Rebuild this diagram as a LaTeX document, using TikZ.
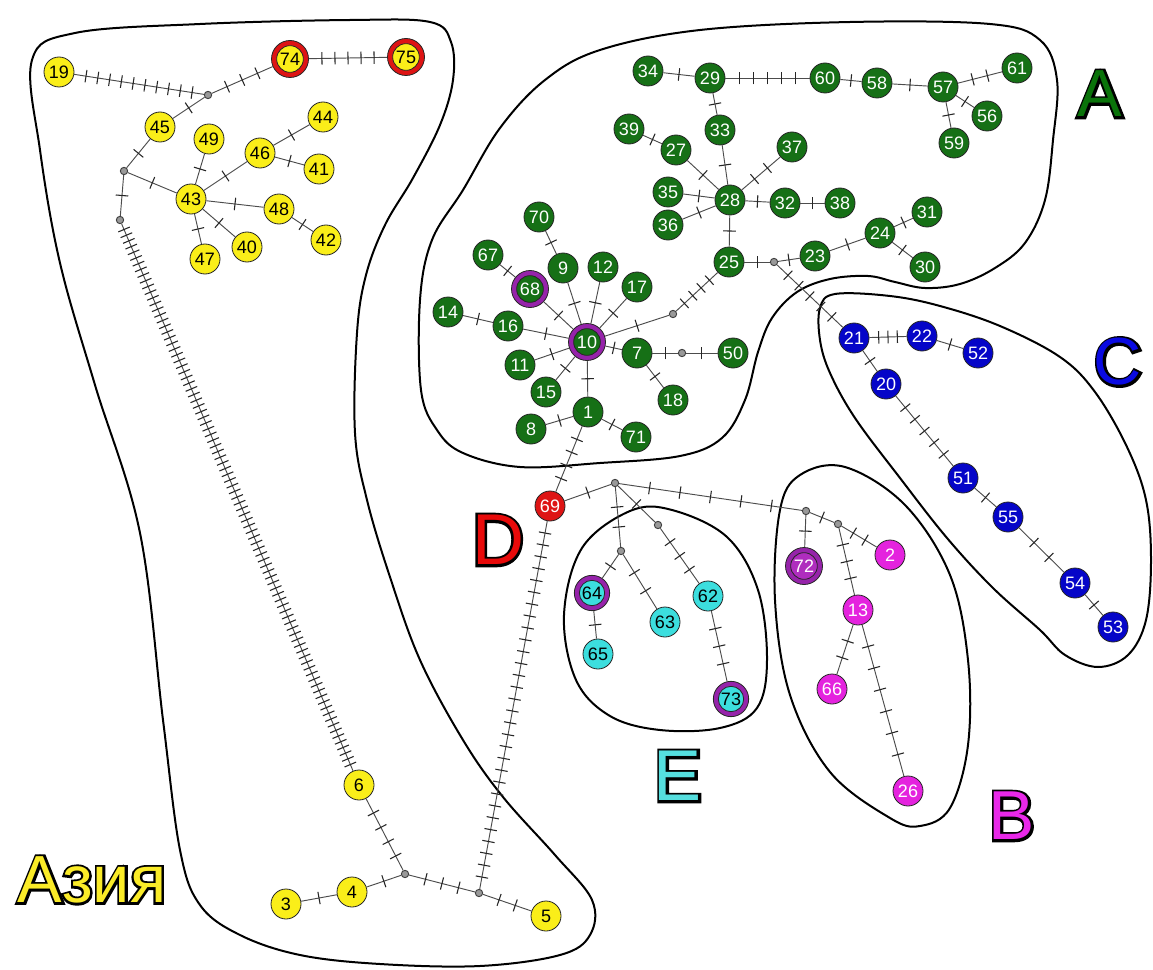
\documentclass[tikz,border=0pt]{standalone}
\usepackage{fontspec}
\setmainfont{Liberation Sans}
\newfontfamily\lblfont{Liberation Sans}
\newfontfamily\lblout{Liberation Sans}[FakeBold=7]
\usetikzlibrary{decorations.markings,calc}
\definecolor{cYel}{RGB}{250,238,25}
\definecolor{cGrn}{RGB}{22,112,22}
\definecolor{cBlu}{RGB}{5,5,200}
\definecolor{cMag}{RGB}{228,35,222}
\definecolor{cCya}{RGB}{60,222,222}
\definecolor{cRed}{RGB}{222,20,20}
\definecolor{cPur}{RGB}{150,35,170}
\definecolor{cPin}{RGB}{175,45,190}
\definecolor{cLbA}{RGB}{10,115,10}
\definecolor{cLbC}{RGB}{10,10,225}
\definecolor{cLbD}{RGB}{232,10,10}
\definecolor{cLbE}{RGB}{85,222,222}
\definecolor{cLbB}{RGB}{232,40,232}
\definecolor{cLbY}{RGB}{250,235,40}
\tikzset{
  hap/.style={circle, draw=black!85, line width=0.6pt, minimum size=22.5pt, inner sep=0pt,
    font={\fontsize{13.5pt}{14pt}\selectfont}},
  yel/.style={hap, fill=cYel, text=black},
  grn/.style={hap, fill=cGrn, text=white},
  blu/.style={hap, fill=cBlu, text=white},
  mag/.style={hap, fill=cMag, text=white},
  cya/.style={hap, fill=cCya, text=black},
  redn/.style={hap, fill=cRed, text=white},
  ringo/.style={hap, minimum size=27.75pt},
  inner/.style={minimum size=20pt},
  med/.style={circle, draw=black!75, fill=black!40, line width=0.7pt, minimum size=5.5pt, inner sep=0pt},
  edge/.style={draw=black!70, line width=0.7pt},
  tickln/.style={draw=black!85, line width=0.8pt},
  region/.style={draw=black, line width=1.5pt},
  bigl/.style={inner sep=0pt},
}
\newcommand\hedge[3]{%
  \pgfmathsetmacro\hst{1/(#3+1)}%
  \pgfmathsetmacro\hen{#3/(#3+1)+0.0005}%
  \draw[edge, postaction={decorate, decoration={markings,
     mark=between positions {\hst} and {\hen} step {\hst} with {\draw[tickln] (0,-4.7pt) -- (0,4.7pt);}}}]
     (#1) -- (#2);}
% outlined label: black emboldened copy underneath, coloured glyphs on top, same glyph origin
\newcommand\biglbl[6]{%
  \node[bigl, font={\lblout\fontsize{#6}{#6}\selectfont}, text=black] (#1-o) at (#2,#3) {#5};
  \node[bigl, anchor=base west, font={\lblfont\fontsize{#6}{#6}\selectfont}, text=#4] (#1) at (#1-o.base west) {#5};}
\begin{document}
\begin{tikzpicture}[x=0.75pt,y=-0.75pt]
\fill[white] (0,0) rectangle (1153,970);
\useasboundingbox (0,0) rectangle (1153,970);

% regions
\draw[region] plot[smooth cycle, tension=0.6] coordinates {
 (32,60) (75,33) (200,24) (350,20) (430,22) (451,42) (453,80) (440,125) (413,178) (385,225)
 (366,275) (357,333) (355,433) (367,500) (390,577) (420,660) (463,740) (503,797) (555,855)
 (592,900) (590,935) (560,955) (480,966) (380,964) (300,955) (240,935) (200,905) (180,850)
 (163,720) (140,533) (95,385) (60,263) (40,150)};
\draw[region] plot[smooth cycle, tension=0.6] coordinates {
 (600,50) (700,30) (850,22) (990,24) (1040,40) (1057,80) (1053,140) (1045,200) (1025,243)
 (995,268) (960,284) (925,288) (895,282) (868,276) (830,279) (797,292) (772,318) (758,352)
 (745,400) (722,438) (680,456) (600,463) (520,467) (463,453) (437,430) (421,390) (420,300)
 (432,240) (463,190) (500,128) (545,80)};
\draw[region] plot[smooth cycle, tension=0.6] coordinates {
 (835,294) (890,296) (940,306) (1000,326) (1060,357) (1095,392) (1127,447) (1146,500)
 (1151,560) (1146,620) (1128,655) (1098,667) (1065,655) (1040,630) (993,588) (947,538)
 (900,478) (855,418) (830,373) (820,340) (820,308)};
\draw[region] plot[smooth cycle, tension=0.6] coordinates {
 (630,511) (672,510) (727,537) (758,590) (767,660) (757,708) (720,728) (660,730) (610,716)
 (576,680) (564,615) (582,548)};
\draw[region] plot[smooth cycle, tension=0.6] coordinates {
 (800,475) (845,467) (905,505) (950,575) (968,660) (968,745) (950,808) (920,826) (890,818)
 (830,772) (790,695) (775,600) (780,510)};

% ---------- nodes: Asia (yellow)
\node[yel] (n19) at (59,72) {19};
\node[ringo, fill=cRed] (n74) at (290,59) {};
\node[yel, inner] (n74i) at (n74) {74};
\node[ringo, fill=cRed] (n75) at (406,57) {};
\node[yel, inner] (n75i) at (n75) {75};
\node[med] (m1) at (208,95) {};
\node[yel] (n45) at (160,127) {45};
\node[yel] (n49) at (209,139) {49};
\node[yel] (n46) at (260,153) {46};
\node[yel] (n44) at (323,117) {44};
\node[yel] (n41) at (319,169) {41};
\node[yel] (n43) at (191,199) {43};
\node[yel] (n48) at (279,209) {48};
\node[yel] (n42) at (326,240) {42};
\node[yel] (n47) at (205,259) {47};
\node[yel] (n40) at (247,247) {40};
\node[med] (m2) at (124,171) {};
\node[med] (m3) at (120,220) {};
\node[yel] (n6) at (359,785) {6};
\node[med] (m4) at (405,874) {};
\node[yel] (n4) at (352,892) {4};
\node[yel] (n3) at (286,904) {3};
\node[med] (m5) at (479,893) {};
\node[yel] (n5) at (546,916) {5};

% ---------- A (green)
\node[grn] (n34) at (648,71) {34};
\node[grn] (n29) at (710,78) {29};
\node[grn] (n60) at (825,78) {60};
\node[grn] (n58) at (877,83) {58};
\node[grn] (n57) at (943,87) {57};
\node[grn] (n61) at (1017,68) {61};
\node[grn] (n56) at (987,116) {56};
\node[grn] (n59) at (954,143) {59};
\node[grn] (n33) at (720,130) {33};
\node[grn] (n39) at (629,129) {39};
\node[grn] (n27) at (676,150) {27};
\node[grn] (n37) at (792,147) {37};
\node[grn] (n35) at (668,192) {35};
\node[grn] (n28) at (730,200) {28};
\node[grn] (n32) at (785,203) {32};
\node[grn] (n38) at (840,203) {38};
\node[grn] (n36) at (668,225) {36};
\node[grn] (n25) at (729,262) {25};
\node[med] (mA) at (774,262) {};
\node[grn] (n23) at (815,256) {23};
\node[grn] (n24) at (880,233) {24};
\node[grn] (n31) at (927,212) {31};
\node[grn] (n30) at (925,267) {30};
\node[grn] (n70) at (539,217) {70};
\node[grn] (n67) at (488,255) {67};
\node[grn] (n9) at (563,268) {9};
\node[grn] (n12) at (603,267) {12};
\node[grn] (n17) at (637,287) {17};
\node[ringo, fill=cPur] (n68) at (530,289) {};
\node[grn, inner] (n68i) at (n68) {68};
\node[grn] (n14) at (448,312) {14};
\node[grn] (n16) at (508,326) {16};
\node[ringo, fill=cPur] (n10) at (587,342) {};
\node[grn, inner] (n10i) at (n10) {10};
\node[grn] (n7) at (637,353) {7};
\node[med] (mB) at (682,353) {};
\node[grn] (n50) at (733,353) {50};
\node[grn] (n11) at (520,365) {11};
\node[grn] (n15) at (546,392) {15};
\node[grn] (n18) at (673,400) {18};
\node[grn] (n1) at (588,412) {1};
\node[grn] (n8) at (531,429) {8};
\node[grn] (n71) at (636,437) {71};
\node[med] (mG) at (673,314) {};

% ---------- C (blue)
\node[blu] (n21) at (854,338) {21};
\node[blu] (n22) at (922,336) {22};
\node[blu] (n52) at (978,353) {52};
\node[blu] (n20) at (886,384) {20};
\node[blu] (n51) at (963,478) {51};
\node[blu] (n55) at (1008,517) {55};
\node[blu] (n54) at (1075,583) {54};
\node[blu] (n53) at (1113,627) {53};

% ---------- D, E, B
\node[redn] (n69) at (550,506) {69};
\node[med] (mJ) at (615,483) {};
\node[med] (mE1) at (621,551) {};
\node[ringo, fill=cPur, minimum size=26.5pt] (n64) at (592,593) {};
\node[cya, inner, minimum size=19pt] (n64i) at (n64) {64};
\node[cya] (n65) at (598,654) {65};
\node[cya] (n63) at (665,622) {63};
\node[med] (mE2) at (658,525) {};
\node[cya] (n62) at (708,596) {62};
\node[ringo, fill=cPur, minimum size=26.5pt] (n73) at (731,699) {};
\node[cya, inner, minimum size=19pt] (n73i) at (n73) {73};
\node[med] (mB1) at (806,511) {};
\node[med] (mB2) at (838,524) {};
\node[ringo, fill=cPur] (n72) at (804,566) {};
\node[hap, fill=cPin, text=white, inner] (n72i) at (n72) {72};
\node[mag] (n2) at (890,555) {2};
\node[mag] (n13) at (858,610) {13};
\node[mag] (n66) at (832,689) {66};
\node[mag] (n26) at (908,791) {26};

% ---------- edges
\hedge{n19}{m1}{10}
\hedge{m1}{n74}{3}
\hedge{n74}{n75}{5}
\hedge{m1}{n45}{1}
\hedge{n45}{m2}{1}
\hedge{m2}{m3}{1}
\hedge{m2}{n43}{1}
\hedge{n43}{n49}{1}
\hedge{n43}{n46}{1}
\hedge{n46}{n44}{1}
\hedge{n46}{n41}{1}
\hedge{n43}{n48}{1}
\hedge{n48}{n42}{1}
\hedge{n43}{n47}{1}
\hedge{n43}{n40}{1}
\hedge{m3}{n6}{95}
\hedge{n6}{m4}{4}
\hedge{m4}{n4}{1}
\hedge{n4}{n3}{1}
\hedge{m4}{m5}{3}
\hedge{m5}{n5}{2}
\hedge{m5}{n69}{30}

\hedge{n34}{n29}{1}
\hedge{n29}{n60}{5}
\hedge{n60}{n58}{1}
\hedge{n58}{n57}{1}
\hedge{n57}{n61}{2}
\hedge{n57}{n56}{1}
\hedge{n57}{n59}{1}
\hedge{n29}{n33}{1}
\hedge{n39}{n27}{1}
\hedge{n27}{n28}{1}
\hedge{n33}{n28}{1}
\hedge{n28}{n37}{2}
\hedge{n35}{n28}{1}
\hedge{n36}{n28}{1}
\hedge{n28}{n32}{1}
\hedge{n32}{n38}{1}
\hedge{n28}{n25}{1}
\hedge{n25}{mA}{1}
\hedge{mA}{n23}{1}
\hedge{n23}{n24}{1}
\hedge{n24}{n31}{1}
\hedge{n24}{n30}{1}
\hedge{mA}{n21}{5}
\hedge{n21}{n22}{3}
\hedge{n22}{n52}{1}
\hedge{n21}{n20}{1}
\hedge{n20}{n51}{5}
\hedge{n51}{n55}{1}
\hedge{n55}{n54}{2}
\hedge{n54}{n53}{1}
\hedge{n25}{mG}{4}
\hedge{mG}{n10}{1}
\hedge{n10}{n7}{1}
\hedge{n7}{mB}{1}
\hedge{mB}{n50}{1}
\hedge{n7}{n18}{1}
\hedge{n10}{n1}{1}
\hedge{n1}{n8}{1}
\hedge{n1}{n71}{1}
\hedge{n10}{n68}{1}
\hedge{n68}{n67}{1}
\hedge{n10}{n9}{1}
\hedge{n9}{n70}{1}
\hedge{n10}{n12}{1}
\hedge{n10}{n17}{1}
\hedge{n10}{n16}{1}
\hedge{n16}{n14}{1}
\hedge{n10}{n11}{1}
\hedge{n10}{n15}{1}
\hedge{n1}{n69}{4}

\hedge{n69}{mJ}{1}
\hedge{mJ}{mE1}{2}
\hedge{mE1}{n64}{1}
\hedge{n64}{n65}{1}
\hedge{mE1}{n63}{2}
\hedge{mJ}{mE2}{1}
\hedge{mE2}{n62}{3}
\hedge{n62}{n73}{3}
\hedge{mJ}{mB1}{5}
\hedge{mB1}{n72}{1}
\hedge{mB1}{mB2}{1}
\hedge{mB2}{n2}{2}
\hedge{mB2}{n13}{3}
\hedge{n13}{n66}{2}
\hedge{n13}{n26}{6}

% ---------- big labels
\biglbl{labA}{1100}{94}{cLbA}{A}{50pt}
\biglbl{labC}{1118}{362}{cLbC}{C}{50pt}
\biglbl{labD}{498}{540}{cLbD}{D}{54pt}
\biglbl{labE}{678}{776}{cLbE}{E}{54pt}
\biglbl{labB}{1012}{816}{cLbB}{B}{52pt}
\biglbl{labAsia}{92}{880}{cLbY}{Азия}{50pt}
\end{tikzpicture}
\end{document}
